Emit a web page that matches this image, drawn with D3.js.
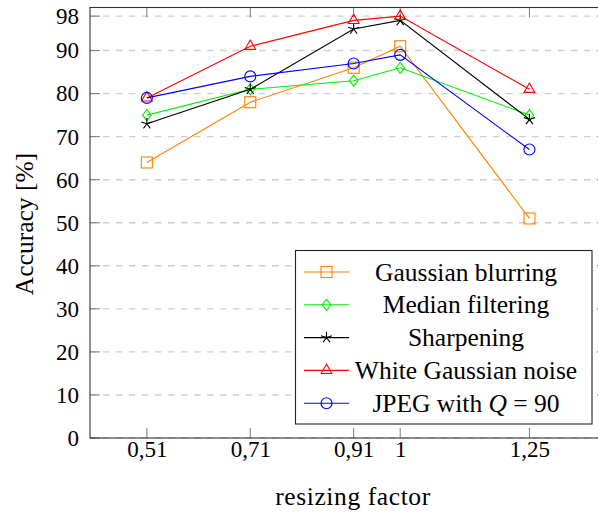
<!DOCTYPE html>
<html>
<head>
<meta charset="utf-8">
<script src="https://cdn.jsdelivr.net/npm/d3@7"></script>
<style>
  html, body { margin: 0; padding: 0; background: #fff; }
  svg { display: block; }
</style>
</head>
<body>
<svg id="chart" width="598" height="513"></svg>
<script>
// ---- data ----
const factors = [0.51, 0.71, 0.91, 1, 1.25];
const xTickLabels = ["0,51", "0,71", "0,91", "1", "1,25"];
const yTicks = [0, 10, 20, 30, 40, 50, 60, 70, 80, 90, 98];

const gaussianBlurring = [64, 78, 86, 91, 51];
const medianFiltering  = [75, 81, 83, 86, 75];
const sharpening       = [73, 81, 95, 97, 74];
const whiteNoise       = [79, 91, 97, 98, 81];
const jpeg90           = [79, 84, 87, 89, 67];

const seriesNames = ["Gaussian blurring", "Median filtering", "Sharpening", "White Gaussian noise", "JPEG with Q = 90"];

// ---- layout ----
const svg = d3.select("#chart");
const margin = { left: 90, top: 7.5, right: 607, bottom: 438 };
const x = d3.scaleLinear().domain([0.4, 1.4]).range([margin.left, margin.right]);
const y = d3.scaleLinear().domain([0, 100]).range([margin.bottom, margin.top]);

const series = [
  { name: seriesNames[0], values: gaussianBlurring, color: "#ff8000", mark: "square" },
  { name: seriesNames[1], values: medianFiltering,  color: "#00f000", mark: "diamond" },
  { name: seriesNames[2], values: sharpening,       color: "#000000", mark: "star" },
  { name: seriesNames[3], values: whiteNoise,       color: "#ff0000", mark: "triangle" },
  { name: seriesNames[4], values: jpeg90,           color: "#0000ff", mark: "circle" }
];

const textFont = "'Liberation Serif', serif";
const numFont = "'Liberation Serif', serif";
const textSize = 25.5;
const numSize = 23;

// grid
const grid = svg.append("g");
yTicks.forEach(t => {
  grid.append("line")
    .attr("x1", margin.left).attr("x2", margin.right)
    .attr("y1", y(t)).attr("y2", y(t))
    .attr("stroke", "#cfcfcf").attr("stroke-width", 1.4)
    .attr("stroke-dasharray", "6.5,6.5");
});

// ticks (inside, on all sides)
const tickG = svg.append("g").attr("stroke", "#7a7a7a").attr("stroke-width", 1);
yTicks.forEach(t => {
  tickG.append("line").attr("x1", margin.left).attr("x2", margin.left + 10).attr("y1", y(t)).attr("y2", y(t));
  tickG.append("line").attr("x1", margin.right - 10).attr("x2", margin.right).attr("y1", y(t)).attr("y2", y(t));
});
factors.forEach(f => {
  tickG.append("line").attr("x1", x(f)).attr("x2", x(f)).attr("y1", margin.bottom).attr("y2", margin.bottom - 10);
  tickG.append("line").attr("x1", x(f)).attr("x2", x(f)).attr("y1", margin.top).attr("y2", margin.top + 10);
});

// axes via d3 for labels
const xAxis = d3.axisBottom(x).tickValues(factors).tickFormat((d, i) => xTickLabels[i]).tickSize(0).tickPadding(0);
const gx = svg.append("g").attr("transform", `translate(0,${margin.bottom})`).call(xAxis);
gx.select(".domain").remove();
gx.selectAll("text").attr("font-family", numFont).attr("font-size", numSize).attr("fill", "#000")
  .attr("dy", null).attr("y", 19);

const yAxis = d3.axisLeft(y).tickValues(yTicks).tickSize(0).tickPadding(0);
const gy = svg.append("g").attr("transform", `translate(${margin.left},0)`).call(yAxis);
gy.select(".domain").remove();
gy.selectAll("text").attr("font-family", numFont).attr("font-size", numSize).attr("fill", "#000")
  .attr("x", -11).attr("dy", "0.32em");

// frame
svg.append("rect")
  .attr("x", margin.left).attr("y", margin.top)
  .attr("width", margin.right - margin.left).attr("height", margin.bottom - margin.top)
  .attr("fill", "none").attr("stroke", "#333").attr("stroke-width", 1.1);

// markers
function drawMark(g, mark, cx, cy, color) {
  if (mark === "square") {
    g.append("rect").attr("x", cx - 5.5).attr("y", cy - 5.5).attr("width", 11).attr("height", 11)
      .attr("fill", "none").attr("stroke", color).attr("stroke-width", 1.1);
  } else if (mark === "circle") {
    g.append("circle").attr("cx", cx).attr("cy", cy).attr("r", 5.5)
      .attr("fill", "none").attr("stroke", color).attr("stroke-width", 1.1);
  } else if (mark === "diamond") {
    g.append("path").attr("d", `M${cx},${cy - 5.5}L${cx + 4.3},${cy}L${cx},${cy + 5.5}L${cx - 4.3},${cy}Z`)
      .attr("fill", "none").attr("stroke", color).attr("stroke-width", 1.1);
  } else if (mark === "triangle") {
    const r = 6.2;
    const pts = [90, 210, 330].map(a => [cx + r * Math.cos(a * Math.PI / 180), cy - r * Math.sin(a * Math.PI / 180)]);
    g.append("path").attr("d", "M" + pts.map(p => p.join(",")).join("L") + "Z")
      .attr("fill", "none").attr("stroke", color).attr("stroke-width", 1.1);
  } else if (mark === "star") {
    const r = 5.8;
    let d = "";
    for (let k = 0; k < 5; k++) {
      const a = (90 + 72 * k) * Math.PI / 180;
      d += `M${cx},${cy}L${cx + r * Math.cos(a)},${cy - r * Math.sin(a)}`;
    }
    g.append("path").attr("d", d).attr("fill", "none").attr("stroke", color).attr("stroke-width", 1.1);
  }
}

const line = d3.line().x((d, i) => x(factors[i])).y(d => y(d));
series.forEach(s => {
  const g = svg.append("g");
  g.append("path").attr("d", line(s.values)).attr("fill", "none").attr("stroke", s.color).attr("stroke-width", 1.1);
  s.values.forEach((v, i) => drawMark(g, s.mark, x(factors[i]), y(v), s.color));
});

// legend
const lg = svg.append("g");
lg.append("rect").attr("x", 295.5).attr("y", 250.5).attr("width", 296.5).attr("height", 173.5)
  .attr("fill", "#fff").attr("stroke", "#222").attr("stroke-width", 1.1);
series.forEach((s, i) => {
  const cy = 272 + i * 32.8;
  lg.append("line").attr("x1", 304).attr("x2", 349).attr("y1", cy).attr("y2", cy)
    .attr("stroke", s.color).attr("stroke-width", 1.1);
  drawMark(lg, s.mark, 326.5, cy, s.color);
  const t = lg.append("text").attr("x", 466).attr("y", cy + 8.5).attr("text-anchor", "middle")
    .attr("font-family", textFont).attr("font-size", textSize).attr("fill", "#000");
  if (i === 4) {
    t.append("tspan").text("JPEG with ");
    t.append("tspan").attr("font-style", "italic").text("Q");
    t.append("tspan").text(" = 90");
  } else {
    t.text(s.name);
  }
});

// axis titles
svg.append("text").attr("x", 353).attr("y", 505).attr("text-anchor", "middle")
  .attr("font-family", textFont).attr("font-size", textSize).attr("letter-spacing", 0.6)
  .attr("fill", "#000").text("resizing factor");
svg.append("text").attr("transform", `translate(33,224) rotate(-90)`).attr("text-anchor", "middle")
  .attr("font-family", textFont).attr("font-size", textSize).attr("fill", "#000").text("Accuracy [%]");
</script>
</body>
</html>
